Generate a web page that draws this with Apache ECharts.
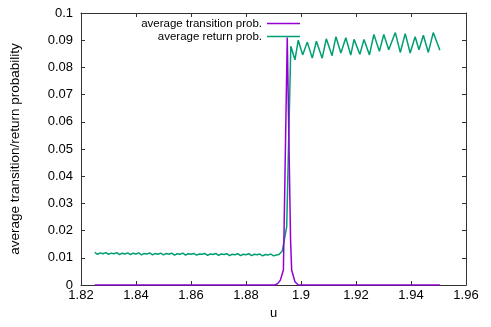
<!DOCTYPE html>
<html>
<head>
<meta charset="utf-8">
<script src="https://cdn.jsdelivr.net/npm/echarts@6/dist/echarts.min.js"></script>
<style>html,body{margin:0;padding:0;background:#fff;}#c{width:491px;height:327px;}</style>
</head>
<body>
<div id="c"></div>
<script>
const xTicks = [1.82, 1.84, 1.86, 1.88, 1.9, 1.92, 1.94, 1.96];
const yTicks = [0, 0.01, 0.02, 0.03, 0.04, 0.05, 0.06, 0.07, 0.08, 0.09, 0.1];
const seriesNames = ['average transition prob.', 'average return prob.'];

const returnU = [
  1.825,1.826,1.827,1.828,1.829,1.830,1.831,1.832,1.833,1.834,1.835,1.836,1.837,1.838,1.839,1.840,
  1.841,1.842,1.843,1.844,1.845,1.846,1.847,1.848,1.849,1.850,1.851,1.852,1.853,1.854,1.855,1.856,
  1.857,1.858,1.859,1.860,1.861,1.862,1.863,1.864,1.865,1.866,1.867,1.868,1.869,1.870,1.871,1.872,
  1.873,1.874,1.875,1.876,1.877,1.878,1.879,1.880,1.881,1.882,1.883,1.884,1.885,1.886,1.887,1.888,
  1.889,1.890,1.891,1.892,1.8932,1.8948,1.8963,
  1.8978,1.8990,1.9006,1.9023,1.9041,1.9056,1.9077,1.9092,1.9113,1.9127,1.9145,1.9163,1.9181,1.9193,
  1.9214,1.9229,1.9249,1.9265,1.9285,1.9301,1.9319,1.9343,1.9361,1.9379,1.9397,1.9415,1.9429,1.9445,
  1.9463,1.9481,1.9505
];
const returnV = [
  0.0120,0.0113,0.0118,0.0115,0.0119,0.0113,0.0117,0.0115,0.0119,0.0112,0.0117,0.0114,0.0118,0.0112,0.0117,0.0114,
  0.0118,0.0111,0.0116,0.0114,0.0118,0.0111,0.0116,0.0113,0.0117,0.0111,0.0116,0.0113,0.0117,0.0110,0.0115,0.0113,
  0.0117,0.0110,0.0115,0.0113,0.0116,0.0110,0.0114,0.0113,0.0116,0.0109,0.0114,0.0112,0.0116,0.0109,0.0114,0.0112,
  0.0115,0.0108,0.0113,0.0111,0.0115,0.0108,0.0113,0.0111,0.0115,0.0108,0.0113,0.0111,0.0114,0.0107,0.0112,0.0110,
  0.0114,0.0107,0.0110,0.0112,0.0125,0.0215,0.0878,
  0.0828,0.0900,0.0846,0.0893,0.0834,0.0896,0.0834,0.0905,0.0843,0.0913,0.0853,0.0909,0.0845,0.0903,
  0.0848,0.0903,0.0846,0.0921,0.0859,0.0921,0.0865,0.0928,0.0855,0.0924,0.0853,0.0913,0.0865,0.0918,
  0.0855,0.0928,0.0863
];

const transU = [1.825, 1.8905, 1.8915, 1.8925, 1.8936, 1.8950, 1.8962, 1.8966, 1.8978, 1.8990, 1.9505];
const transV = [0, 0, 0.0005, 0.0018, 0.0055, 0.0910, 0.0166, 0.0055, 0.0012, 0, 0];

const purple = '#9400d3';
const green = '#009e73';
const font = 'Liberation Sans, Arial, sans-serif';

function zip(a, b) { return a.map((x, i) => [x, b[i]]); }

const chart = echarts.init(document.getElementById('c'), null, {renderer: 'canvas'});
const xBase = {
  type: 'value', min: xTicks[0], max: xTicks[xTicks.length - 1], interval: 0.02,
  axisLine: {show: true, onZero: false, lineStyle: {color: '#333', width: 1}},
  axisTick: {show: true, inside: true, length: 4, lineStyle: {color: '#333'}},
  splitLine: {show: false}
};
const yBase = {
  type: 'value', min: yTicks[0], max: yTicks[yTicks.length - 1], interval: 0.01,
  axisLine: {show: true, onZero: false, lineStyle: {color: '#333', width: 1}},
  axisTick: {show: true, inside: true, length: 4, lineStyle: {color: '#333'}},
  splitLine: {show: false}
};
function legendFor(i, top) {
  return {
    data: [{name: seriesNames[i], icon: 'rect'}], right: 191, top: top, orient: 'vertical', align: 'right',
    itemWidth: 33, itemHeight: 1.5, itemGap: 0, padding: 0,
    textStyle: {color: '#000', fontSize: 11.5, fontFamily: font, lineHeight: 13}
  };
}
chart.setOption({
  animation: false,
  backgroundColor: '#fff',
  textStyle: {fontFamily: font},
  grid: {left: 75, right: 25, top: 13, bottom: 42, containLabel: false},
  xAxis: [
    Object.assign({}, xBase, {
      position: 'bottom',
      name: 'u', nameLocation: 'middle', nameGap: 22,
      nameTextStyle: {color: '#000', fontSize: 13, fontFamily: font},
      axisLabel: {show: true, color: '#000', fontSize: 13, margin: 4, fontFamily: font}
    }),
    Object.assign({}, xBase, {position: 'top', axisLabel: {show: false}})
  ],
  yAxis: [
    Object.assign({}, yBase, {
      position: 'left',
      name: 'average transition/return probability', nameLocation: 'middle', nameGap: 59,
      nameTextStyle: {color: '#000', fontSize: 13.5, fontFamily: font},
      axisLabel: {show: true, color: '#000', fontSize: 13, margin: 8, fontFamily: font}
    }),
    Object.assign({}, yBase, {position: 'right', axisLabel: {show: false}})
  ],
  legend: [legendFor(0, 17), legendFor(1, 30)],
  series: [
    {
      name: seriesNames[0], type: 'line', data: zip(transU, transV),
      symbol: 'none', lineStyle: {color: purple, width: 1.5}, itemStyle: {color: purple},
      xAxisIndex: 0, yAxisIndex: 0, z: 3
    },
    {
      name: seriesNames[1], type: 'line', data: zip(returnU, returnV),
      symbol: 'none', lineStyle: {color: green, width: 1.5}, itemStyle: {color: green},
      xAxisIndex: 0, yAxisIndex: 0, z: 2
    }
  ]
});
</script>
</body>
</html>
